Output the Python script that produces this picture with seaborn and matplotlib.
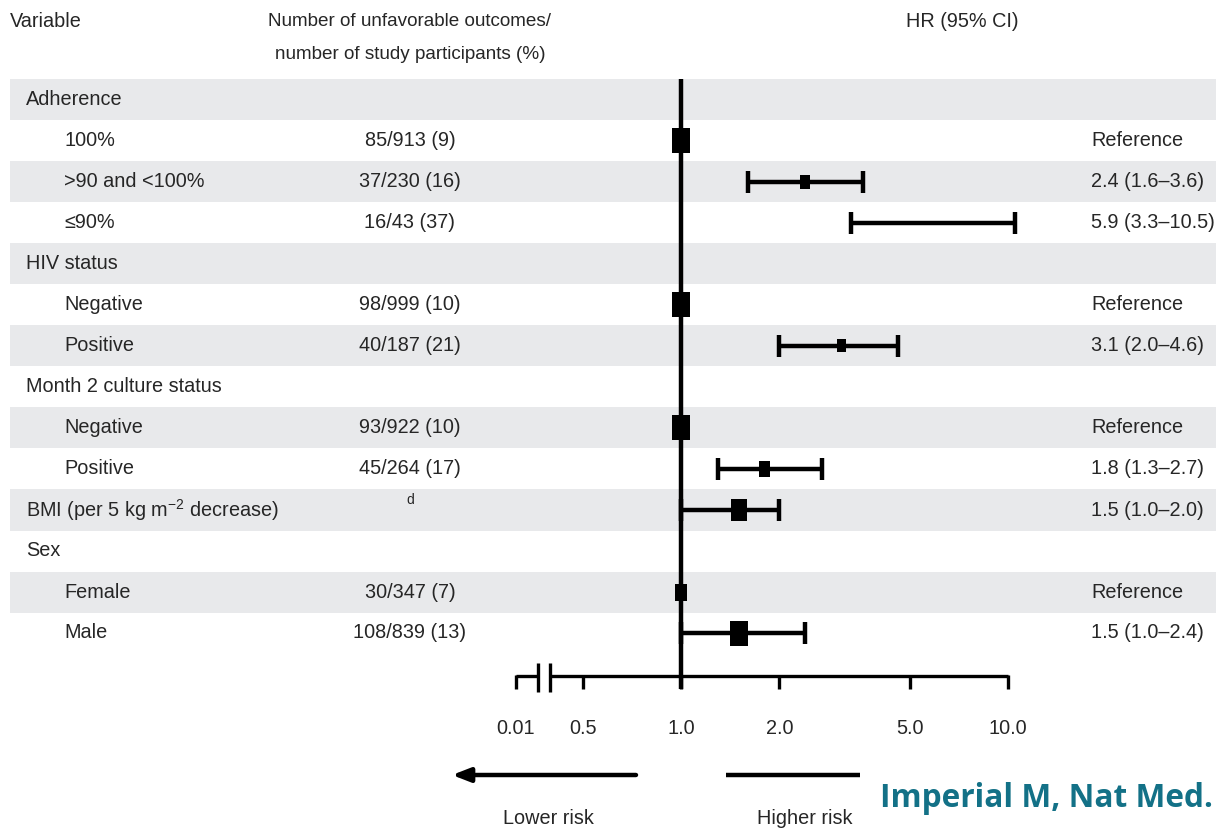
import numpy as np
import pandas as pd
import matplotlib
matplotlib.use("Agg")
import matplotlib.pyplot as plt
from matplotlib.transforms import blended_transform_factory
import seaborn as sns

# ---------------- data ----------------
row_labels = ["Adherence", "100%", ">90 and <100%", "\u226490%",
              "HIV status", "Negative", "Positive",
              "Month 2 culture status", "Negative", "Positive",
              "BMI (per 5 kg m$^{\u22122}$ decrease)",
              "Sex", "Female", "Male"]
row_is_header = [1, 0, 0, 0, 1, 0, 0, 1, 0, 0, 1, 1, 0, 0]
counts = ["", "85/913 (9)", "37/230 (16)", "16/43 (37)",
          "", "98/999 (10)", "40/187 (21)",
          "", "93/922 (10)", "45/264 (17)",
          "", "", "30/347 (7)", "108/839 (13)"]
hr_text = ["", "Reference", "2.4 (1.6\u20133.6)", "5.9 (3.3\u201310.5)",
           "", "Reference", "3.1 (2.0\u20134.6)",
           "", "Reference", "1.8 (1.3\u20132.7)", "1.5 (1.0\u20132.0)",
           "", "Reference", "1.5 (1.0\u20132.4)"]
hr = [np.nan, 1.0, 2.4, 5.9, np.nan, 1.0, 3.1, np.nan, 1.0, 1.8, 1.5, np.nan, 1.0, 1.5]
ci_lo = [np.nan, np.nan, 1.6, 3.3, np.nan, np.nan, 2.0, np.nan, np.nan, 1.3, 1.0, np.nan, np.nan, 1.0]
ci_hi = [np.nan, np.nan, 3.6, 10.5, np.nan, np.nan, 4.6, np.nan, np.nan, 2.7, 2.0, np.nan, np.nan, 2.4]
tick_values = [0.01, 0.5, 1.0, 2.0, 5.0, 10.0]
tick_labels = ["0.01", "0.5", "1.0", "2.0", "5.0", "10.0"]

# ---------------- style ----------------
marker_h_px = [0, 25, 14, 0, 0, 25, 13, 0, 25, 15.5, 22, 0, 17, 25]
BAND = "#e8e9eb"
TEAL = "#137187"
PX_PER_DECADE = 327.0
X_REF_PX = 681.0
W, H = 1216, 834
ROW0_PX, ROW_PX = 100.0, 41.0

sns.set_theme(style="white")
plt.rcParams["font.family"] = ["Liberation Sans", "DejaVu Sans"]
plt.rcParams["mathtext.default"] = "regular"

fig = plt.figure(figsize=(W / 100, H / 100), dpi=100)
ax = fig.add_axes([0, 0, 1, 1])
ax.set_xscale("log")


def py(px):  # pixel row -> data y
    return (px - ROW0_PX) / ROW_PX


def pxv(px):  # pixel column -> data x (log axis)
    return 10 ** ((px - X_REF_PX) / PX_PER_DECADE)


bt = blended_transform_factory(ax.transAxes, ax.transData)
n = len(row_labels)

# alternating bands
for i in range(0, n, 2):
    ax.axhspan(i - 0.5, i + 0.5, xmin=10 / W, xmax=1, color=BAND, lw=0, zorder=0)

FS = 14.3
HFS = 13.6
# header
ax.text(10 / W, py(22), "Variable", transform=bt, ha="left", va="center", fontsize=FS)
ax.text(410 / W, py(22), "Number of unfavorable outcomes/", transform=bt, ha="center", va="center", fontsize=HFS)
ax.text(410 / W, py(55), "number of study participants (%)", transform=bt, ha="center", va="center", fontsize=HFS)
ax.text(962 / W, py(22), "HR (95% CI)", transform=bt, ha="center", va="center", fontsize=FS)

for i in range(n):
    xl = 26 if row_is_header[i] else 64
    ax.text(xl / W, i, row_labels[i], transform=bt, ha="left", va="center", fontsize=FS)
    if counts[i]:
        ax.text(410 / W, i, counts[i], transform=bt, ha="center", va="center", fontsize=FS)
    if hr_text[i]:
        ax.text(1091 / W, i, hr_text[i], transform=bt, ha="left", va="center", fontsize=FS)
ax.text(410 / W, 10 - 0.25, "d", transform=bt, ha="center", va="center", fontsize=10)

# reference line
ax.plot([1.0, 1.0], [-0.5, py(689)], color="black", lw=3.2, solid_capstyle="butt", zorder=3)

# confidence intervals
df = pd.DataFrame({"row": np.arange(n), "hr": hr, "lo": ci_lo, "hi": ci_hi, "h": marker_h_px})
ci = df.dropna(subset=["lo"])
ax.errorbar(ci["hr"], ci["row"], xerr=[ci["hr"] - ci["lo"], ci["hi"] - ci["hr"]],
            fmt="none", ecolor="black", elinewidth=3.2, capsize=7.6, capthick=3.2, zorder=4)

# point estimates
pts = df[(df["h"] > 0) & df["hr"].notna()]
rect = np.array([[-0.36, -0.5], [0.36, -0.5], [0.36, 0.5], [-0.36, 0.5], [-0.36, -0.5]])
sns.scatterplot(data=pts, x="hr", y="row", marker=rect, s=(pts["h"] * 0.72) ** 2,
                color="black", edgecolor="none", linewidth=0, ax=ax, legend=False, zorder=5)
ax.set_xlim(10 ** (-X_REF_PX / PX_PER_DECADE), 10 ** ((W - X_REF_PX) / PX_PER_DECADE))
ax.set_ylim((H - ROW0_PX) / ROW_PX, -ROW0_PX / ROW_PX)
ax.axis("off")

# broken x axis
axis_y = py(676)
tick_bot = py(689)
tick_pos = [pxv(516)] + tick_values[1:]
ax.plot([tick_pos[0], pxv(538)], [axis_y, axis_y], color="black", lw=2.4, solid_capstyle="butt")
ax.plot([pxv(550), 10.0], [axis_y, axis_y], color="black", lw=2.4, solid_capstyle="butt")
for bx in (538, 550):
    ax.plot([pxv(bx), pxv(bx)], [py(663), py(692)], color="black", lw=2.4, solid_capstyle="butt")
for tp, tl in zip(tick_pos, tick_labels):
    ax.plot([tp, tp], [axis_y - 0.03, tick_bot], color="black", lw=2.4, solid_capstyle="butt")
    ax.text(tp, py(729), tl, ha="center", va="center", fontsize=FS)

# risk arrows
ay = py(775)
ax.annotate("", xy=(pxv(452), ay), xytext=(pxv(636), ay),
            arrowprops=dict(arrowstyle="-|>,head_length=0.9,head_width=0.35", color="black", lw=3.2,
                            shrinkA=0, shrinkB=0))
ax.plot([pxv(726), pxv(860)], [ay, ay], color="black", lw=3.2, solid_capstyle="butt")
ax.text(548 / W, py(819), "Lower risk", transform=bt, ha="center", va="center", fontsize=FS)
ax.text(757 / W, py(819), "Higher risk", transform=bt, ha="left", va="center", fontsize=FS)

# citation
ax.text(880 / W, py(799), "Imperial M, Nat Med.", transform=bt, ha="left", va="center",
        fontsize=22.8, fontweight="bold", family=["Open Sans", "DejaVu Sans"], color=TEAL,
        bbox=dict(facecolor="white", edgecolor="none", pad=1), zorder=10)

fig.savefig("out.png", dpi=100)
